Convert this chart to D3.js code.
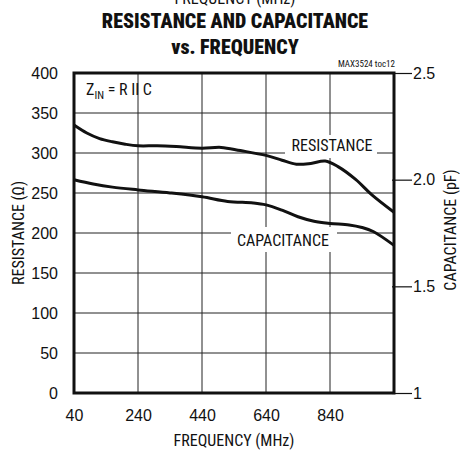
<!DOCTYPE html>
<html>
<head>
<meta charset="utf-8">
<script src="https://cdn.jsdelivr.net/npm/d3@7"></script>
<style>
  body { margin: 0; background: #fff; }
  svg text { font-family: "Liberation Sans Narrow", "Arial Narrow", "Roboto Condensed", sans-serif; fill: #111; }
</style>
</head>
<body>
<svg id="chart" width="460" height="450"></svg>
<script>
// values
const freqTicks = [40, 240, 440, 640, 840];
const resTicks = [0, 50, 100, 150, 200, 250, 300, 350, 400];
const capTicks = [1, 1.5, 2.0, 2.5];
const capTickLabels = ['1', '1.5', '2.0', '2.5'];

const resFreq = [40, 80, 120, 160, 200, 240, 300, 360, 440, 500, 560, 640, 690, 735, 780, 825, 865, 920, 970, 1040];
const resValue = [335, 325, 318, 314, 311, 309, 309, 308, 306, 307, 303, 297, 291, 286, 287, 290, 283, 267, 248, 226];

const capFreq = [40, 100, 160, 240, 340, 440, 520, 600, 640, 690, 740, 790, 840, 900, 940, 975, 1040];
const capValue = [2.0, 1.98, 1.965, 1.952, 1.938, 1.92, 1.898, 1.891, 1.882, 1.857, 1.826, 1.805, 1.795, 1.788, 1.776, 1.757, 1.692];

const margin = {top: 73, left: 74},
  w = 320, h = 320;

const svg = d3.select('#chart');

// titles
svg.append('text').attr('x', 235).attr('y', 4).attr('text-anchor', 'middle')
  .style('font-size', '16px').text('FREQUENCY (MHz)');
svg.append('text').attr('x', 235).attr('y', 28).attr('text-anchor', 'middle')
  .style('font-size', '20px').style('font-weight', '900').text('RESISTANCE AND CAPACITANCE');
svg.append('text').attr('x', 235).attr('y', 54).attr('text-anchor', 'middle')
  .style('font-size', '20px').style('font-weight', '900').text('vs. FREQUENCY');
svg.append('text').attr('x', 395).attr('y', 67).attr('text-anchor', 'end')
  .style('font-size', '9px').text('MAX3524 toc12');

const g = svg.append('g').attr('transform', 'translate(' + margin.left + ',' + margin.top + ')');

const x = d3.scaleLinear().domain([40, 1040]).range([0, w]);
const y = d3.scaleLinear().domain([0, 400]).range([h, 0]);
const yc = d3.scaleLinear().domain([1, 2.5]).range([h, 0]);

// grid
g.append('g').selectAll('line.gx')
  .data(freqTicks.slice(1))
  .enter().append('line')
  .attr('x1', d => x(d)).attr('x2', d => x(d))
  .attr('y1', 0).attr('y2', h)
  .attr('stroke', '#222').attr('stroke-width', 1);
g.append('g').selectAll('line.gy')
  .data(resTicks.slice(1, -1))
  .enter().append('line')
  .attr('x1', 0).attr('x2', w)
  .attr('y1', d => y(d)).attr('y2', d => y(d))
  .attr('stroke', '#222').attr('stroke-width', 1);

// axes
const xAxis = g.append('g').attr('transform', 'translate(0,' + h + ')')
  .call(d3.axisBottom(x).tickValues(freqTicks).tickSize(0).tickPadding(17));
const yAxis = g.append('g')
  .call(d3.axisLeft(y).tickValues(resTicks).tickSize(0).tickPadding(16));
const cAxis = g.append('g').attr('transform', 'translate(' + (w - 2) + ',0)')
  .call(d3.axisRight(yc).tickValues(capTicks).tickSize(20).tickPadding(1)
    .tickFormat((d, i) => capTickLabels[i]));
[xAxis, yAxis, cAxis].forEach(a => {
  a.select('.domain').remove();
  a.selectAll('text').style('font-size', '16px')
    .style('font-family', '"Liberation Sans Narrow", "Arial Narrow", sans-serif').attr('fill', '#111');
});
cAxis.selectAll('line').attr('stroke', '#111').attr('stroke-width', 1.2);

// curve labels with white boxes that break the grid
const labels = [
  {text: 'RESISTANCE', x: 332, y: 151, bx0: 285, bx1: 377, by0: 135, by1: 158},
  {text: 'CAPACITANCE', x: 283, y: 246, bx0: 231, bx1: 337, by0: 227, by1: 252}
];
labels.forEach(l => {
  g.append('rect')
    .attr('x', l.bx0 - margin.left).attr('y', l.by0 - margin.top)
    .attr('width', l.bx1 - l.bx0).attr('height', l.by1 - l.by0)
    .attr('fill', '#fff');
});

const line = d3.line().curve(d3.curveCatmullRom.alpha(0.5));
g.append('path')
  .attr('d', line(resFreq.map((f, i) => [x(f), y(resValue[i])])))
  .attr('fill', 'none').attr('stroke', '#111').attr('stroke-width', 3);
g.append('path')
  .attr('d', line(capFreq.map((f, i) => [x(f), yc(capValue[i])])))
  .attr('fill', 'none').attr('stroke', '#111').attr('stroke-width', 3);

labels.forEach(l => {
  g.append('text')
    .attr('x', l.x - margin.left).attr('y', l.y - margin.top)
    .attr('text-anchor', 'middle').style('font-size', '16px').text(l.text);
});

// frame
g.append('rect').attr('width', w).attr('height', h)
  .attr('fill', 'none').attr('stroke', '#111').attr('stroke-width', 3);

// Z_IN note
const z = g.append('text').attr('x', 86 - margin.left).attr('y', 95 - margin.top).style('font-size', '16px');
z.append('tspan').text('Z');
z.append('tspan').attr('dy', 4).style('font-size', '11px').text('IN');
z.append('tspan').attr('dy', -4).text(' = R II C');

// axis titles
svg.append('text').attr('transform', 'translate(24,233) rotate(-90)')
  .attr('text-anchor', 'middle').style('font-size', '16px').text('RESISTANCE (Ω)');
svg.append('text').attr('transform', 'translate(456,230) rotate(-90)')
  .attr('text-anchor', 'middle').style('font-size', '16px').text('CAPACITANCE (pF)');
svg.append('text').attr('x', 234).attr('y', 446)
  .attr('text-anchor', 'middle').style('font-size', '16px').text('FREQUENCY (MHz)');
</script>
</body>
</html>
